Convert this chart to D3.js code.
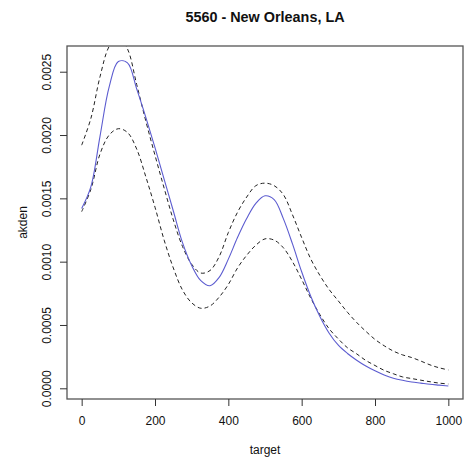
<!DOCTYPE html>
<html>
<head>
<meta charset="utf-8">
<script src="https://cdn.jsdelivr.net/npm/d3@7"></script>
<style>
  html, body { margin: 0; padding: 0; background: #fff; }
  svg text { font-family: "Liberation Sans", Arial, Helvetica, sans-serif; fill: #111; }
</style>
</head>
<body>
<svg id="chart" width="464" height="461"></svg>
<script>
const title = "5560 - New Orleans, LA";
const xLabel = "target";
const yLabel = "akden";
const xTicks = [0, 200, 400, 600, 800, 1000];
const yTicks = [0, 0.0005, 0.0010, 0.0015, 0.0020, 0.0025];
const yTickLabels = ["0.0000", "0.0005", "0.0010", "0.0015", "0.0020", "0.0025"];

const target = [0,25,50,75,100,125,150,175,200,225,250,275,300,325,350,375,400,425,450,475,500,
  525,550,575,600,625,650,675,700,725,750,775,800,825,850,875,900,925,950,975,1000];

const estimate = [0.00142,0.00159,0.00199,0.00238,0.00258,0.00257,0.002365,0.00214,0.00190,0.00165,
  0.00140,0.00115,0.00097,0.00085,0.00081,0.000876,0.00102,0.00119,0.00134,0.00146,0.00152,
  0.00149,0.00134,0.00114,0.00092,0.000725,0.000565,0.000435,0.00034,0.000275,0.000222,0.000176,
  0.000138,0.000105,0.00008,0.000063,0.00005,0.000041,0.000032,0.000025,0.000018];

const upper = [0.00192,0.00213,0.00246,0.00270,0.00278,0.00268,0.00240,0.00211,0.00184,0.00158,
  0.00133,0.00112,0.00098,0.00091,0.00093,0.00104,0.00123,0.00139,0.00151,0.00160,0.00162,
  0.00160,0.00153,0.00137,0.00119,0.00102,0.00089,0.00078,0.00069,0.00060,0.00052,0.00045,
  0.000386,0.000336,0.000294,0.000264,0.000243,0.000215,0.000185,0.000162,0.000145];

const lower = [0.001395,0.00157,0.00185,0.00200,0.00205,0.00202,0.00189,0.00167,0.00143,0.00117,
  0.00095,0.000776,0.000675,0.000632,0.00065,0.00072,0.00082,0.00095,0.00105,0.00113,0.00118,
  0.00117,0.00111,0.00100,0.00086,0.00071,0.00058,0.00047,0.00039,0.00032,0.000272,0.00022,
  0.00018,0.000142,0.000115,0.00009,0.000077,0.000064,0.000052,0.000041,0.000034];

const plot = { left: 67, right: 463, top: 46, bottom: 399 };
const svg = d3.select("#chart");

const x = d3.scaleLinear().domain([-40, 1040]).range([plot.left, plot.right]);
const y = d3.scaleLinear().domain([-0.0000845, 0.002703]).range([plot.bottom, plot.top]);

svg.append("defs").append("clipPath").attr("id", "clip")
  .append("rect").attr("x", plot.left).attr("y", plot.top)
  .attr("width", plot.right - plot.left).attr("height", plot.bottom - plot.top);

const line = (vals) => d3.line()
  .x((d, i) => x(target[i]))
  .y(d => y(d))
  .curve(d3.curveCatmullRom.alpha(0.5))(vals);

const g = svg.append("g").attr("clip-path", "url(#clip)");
g.append("path").attr("d", line(upper)).attr("fill", "none")
  .attr("stroke", "#222").attr("stroke-width", 1).attr("stroke-dasharray", "4,3");
g.append("path").attr("d", line(lower)).attr("fill", "none")
  .attr("stroke", "#222").attr("stroke-width", 1).attr("stroke-dasharray", "4,3");
g.append("path").attr("d", line(estimate)).attr("fill", "none")
  .attr("stroke", "#5c5cd0").attr("stroke-width", 1.1);

// box
svg.append("rect").attr("x", plot.left).attr("y", plot.top)
  .attr("width", plot.right - plot.left).attr("height", plot.bottom - plot.top)
  .attr("fill", "none").attr("stroke", "#555").attr("stroke-width", 1.3);

// x axis
const xAxis = d3.axisBottom(x).tickValues(xTicks).tickSize(7).tickPadding(10)
  .tickFormat(d3.format("d"));
const xg = svg.append("g").attr("transform", `translate(0,${plot.bottom})`).call(xAxis);
xg.select(".domain").remove();
xg.selectAll("line").attr("stroke", "#333");
xg.selectAll("text").attr("font-size", "12px").attr("fill", "#111")
  .style("font-family", "'Liberation Sans', Arial, sans-serif");

// y axis
const yAxis = d3.axisLeft(y).tickValues(yTicks).tickSize(7)
  .tickFormat((d, i) => yTickLabels[i]);
const yg = svg.append("g").attr("transform", `translate(${plot.left},0)`).call(yAxis);
yg.select(".domain").remove();
yg.selectAll("line").attr("stroke", "#333");
yg.selectAll("text")
  .attr("x", null).attr("dy", null)
  .attr("transform", "translate(-16.5,0) rotate(-90)")
  .attr("text-anchor", "middle")
  .attr("font-size", "12px").attr("fill", "#111")
  .style("font-family", "'Liberation Sans', Arial, sans-serif");

// title
svg.append("text").attr("x", (plot.left + plot.right) / 2).attr("y", 22)
  .attr("text-anchor", "middle").attr("font-size", "14.4px").attr("font-weight", "bold")
  .text(title);

// axis labels
svg.append("text").attr("x", (plot.left + plot.right) / 2).attr("y", 454)
  .attr("text-anchor", "middle").attr("font-size", "12px").text(xLabel);
svg.append("text")
  .attr("transform", `translate(27,${(plot.top + plot.bottom) / 2}) rotate(-90)`)
  .attr("text-anchor", "middle").attr("font-size", "12px").text(yLabel);
</script>
</body>
</html>
